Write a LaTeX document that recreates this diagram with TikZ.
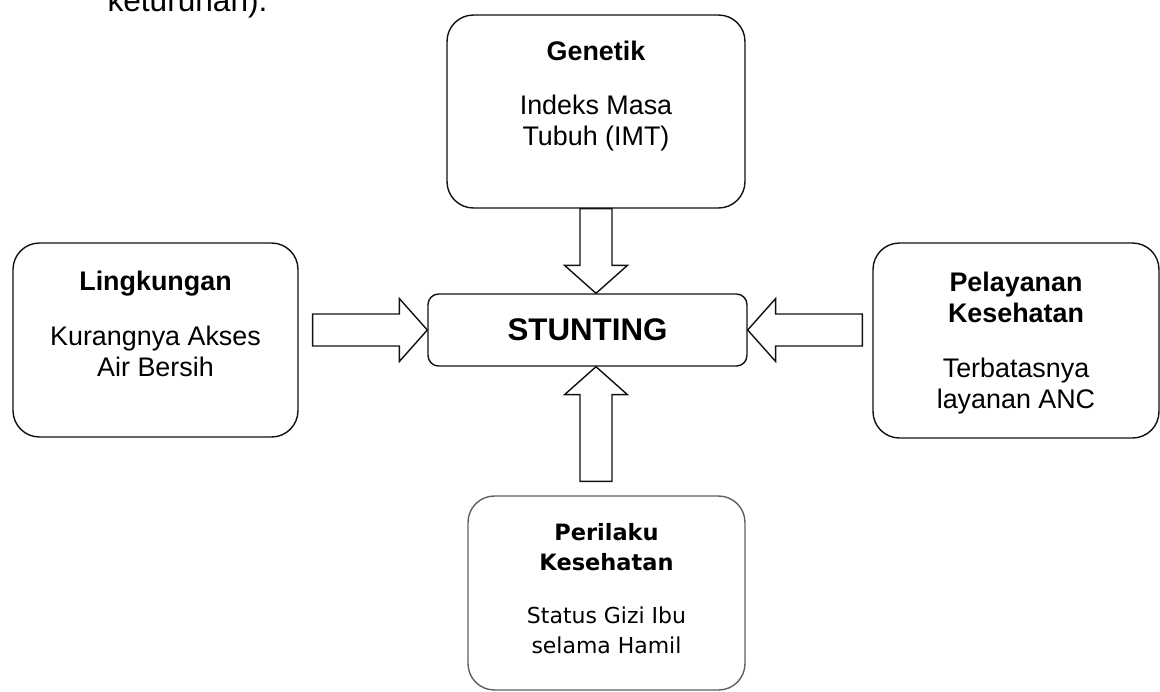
\documentclass[tikz,border=0pt]{standalone}
\usepackage{fontspec}
\setmainfont{Liberation Sans}
\newfontfamily\pixelfont{DejaVu Sans}
\usepackage{tikz}
\usetikzlibrary{calc, positioning}
\definecolor{garis}{HTML}{111111}
\definecolor{abu}{HTML}{5f5f5f}

% block arrow from #1 to the tip #2
\newcommand{\blokpanah}[2]{%
  \coordinate (pa) at (#1);
  \coordinate (pb) at (#2);
  \coordinate (pc) at ($(pb)!0.56cm!(pa)$);
  \draw[panah] ($(pa)!0.32cm!90:(pb)$) -- ($(pc)!0.32cm!-90:(pa)$) -- ($(pc)!0.63cm!-90:(pa)$) -- (pb)
    -- ($(pc)!0.63cm!90:(pa)$) -- ($(pc)!0.32cm!90:(pa)$) -- ($(pa)!0.32cm!-90:(pb)$) -- cycle;
}

\begin{document}
\begin{tikzpicture}[x=0.02cm, y=-0.02cm,
  kotak/.style={draw=garis, thick, rounded corners=15pt, inner sep=0pt},
  panah/.style={draw=garis, thick, fill=white},
  judul/.style={anchor=base, align=center, font=\fontsize{15.3}{17.6}\selectfont\bfseries},
  isi/.style={anchor=base, align=center, font=\fontsize{15.3}{17.6}\selectfont}]
  \useasboundingbox (0,0) rectangle (1160,691);
  \clip (0,0) rectangle (1160,691);

  \node[font=\fontsize{18}{21}\selectfont, anchor=base] (sisa) at (187.5,11) {keturunan).};

  % boxes
  \node[kotak, minimum width=5.96cm, minimum height=3.86cm] (gen) at (596,111.5) {};
  \node[kotak, minimum width=5.7cm, minimum height=3.88cm] (ling) at (155.5,340) {};
  \node[kotak, minimum width=5.72cm, minimum height=3.9cm] (pel) at (1016,340.5) {};
  \node[kotak, draw=abu, minimum width=5.54cm, minimum height=3.88cm] (per) at (606.5,593) {};
  \node[kotak, rounded corners=6pt, minimum width=6.38cm, minimum height=1.44cm,
        font=\fontsize{17.8}{20}\selectfont\bfseries] (stunt) at (587.5,330) {STUNTING};

  % texts (base = last line)
  \node[judul] (tgen) at (596,60) {Genetik};
  \node[isi] (igen) at (596,145) {Indeks Masa\\Tubuh (IMT)};
  \node[judul] (tling) at (155.5,290) {Lingkungan};
  \node[isi] (iling) at (155.5,376) {Kurangnya Akses\\Air Bersih};
  \node[judul] (tpel) at (1016,322) {Pelayanan\\Kesehatan};
  \node[isi] (ipel) at (1016,408) {Terbatasnya\\layanan ANC};
  \node[judul, font=\fontsize{12.8}{17}\selectfont\pixelfont\bfseries] (tper) at (606.5,570) {Perilaku\\Kesehatan};
  \node[isi, font=\fontsize{12.5}{17}\selectfont\pixelfont] (iper) at (606.5,653) {Status Gizi Ibu\\selama Hamil};

  % arrows
  \blokpanah{gen.south}{gen.south |- stunt.north}
  \blokpanah{$(ling.east |- stunt.west)+(14,0)$}{stunt.west}
  \blokpanah{$(pel.west |- stunt.east)+(-10,0)$}{stunt.east}
  \blokpanah{$(gen.south |- per.north)+(0,-14)$}{gen.south |- stunt.south}
\end{tikzpicture}
\end{document}
